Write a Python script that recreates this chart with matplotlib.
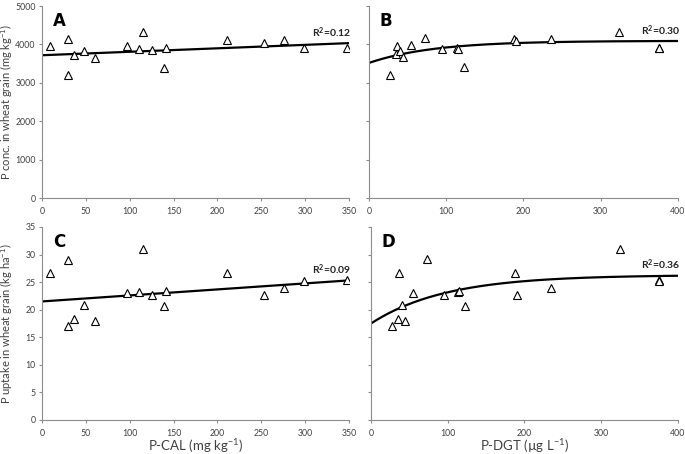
import numpy as np
import matplotlib
matplotlib.use("Agg")
import matplotlib.pyplot as plt

matplotlib.rcParams["font.family"] = ["Lato", "DejaVu Sans"]
matplotlib.rcParams["mathtext.fontset"] = "custom"
matplotlib.rcParams["mathtext.rm"] = "Lato"
matplotlib.rcParams["mathtext.bf"] = "Lato:bold"
matplotlib.rcParams["mathtext.it"] = "Lato:italic"

# ── data ─────────────────────────────────────────────────────────────────────
p_cal = [9, 30, 30, 36, 48, 60, 97, 111, 115, 125, 139, 142, 211, 253, 276, 299, 348]
conc_cal = [3950, 4150, 3200, 3720, 3820, 3660, 3950, 3870, 4320, 3860, 3400, 3920,
            4120, 4040, 4120, 3910, 3900]
uptake_cal = [26.6, 29.1, 17.0, 18.3, 20.9, 17.9, 23.0, 23.2, 31.1, 22.6, 20.6, 23.4,
              26.6, 22.7, 23.9, 25.2, 25.4]

p_dgt = [27, 35, 36, 40, 44, 55, 73, 95, 114, 115, 123, 188, 190, 235, 324, 375, 375]
conc_dgt = [3210, 3740, 3965, 3835, 3680, 3975, 4180, 3870, 3910, 3880, 3420, 4130,
            4080, 4130, 4330, 3920, 3900]
uptake_dgt = [17.0, 18.3, 26.6, 20.9, 17.9, 23.0, 29.2, 22.6, 23.3, 23.4, 20.6, 26.6,
              22.7, 23.9, 31.0, 25.3, 25.2]

# trend lines: linear (intercept, slope) and rise-to-max (a, b, c): y = a - b*exp(-c*x)
lin_A = (3720, 0.90)
lin_C = (21.5, 0.0109)
exp_B = (4095, 575, 0.012)
exp_D = (26.3, 8.8, 0.0103)

r2 = {"A": "0.12", "B": "0.30", "C": "0.09", "D": "0.36"}

GREY = "#8c8c8c"
TXT = "#404040"


def style(ax, xmax, xstep, ymax, ystep, show_y):
    for s in ("top", "right"):
        ax.spines[s].set_visible(False)
    for s in ("left", "bottom"):
        ax.spines[s].set_color(GREY)
        ax.spines[s].set_linewidth(0.8)
    ax.set_xlim(0, xmax)
    ax.set_ylim(0, ymax)
    ax.set_xticks(np.arange(0, xmax + 1, xstep))
    ax.set_yticks(np.arange(0, ymax + ystep / 2, ystep))
    ax.tick_params(axis="both", colors=GREY, labelcolor=TXT, labelsize=6.3,
                   length=2.5, width=0.8, direction="out")
    ax.tick_params(axis="x", pad=4)
    ax.tick_params(axis="y", pad=2)
    if not show_y:
        ax.set_yticklabels([])


def scatter(ax, x, y):
    ax.plot(x, y, "^", ms=6, mfc="white", mec="black", mew=0.8, zorder=3)


def trend(ax, xs, ys, label, xmax):
    ax.plot(xs, ys, color="black", lw=1.6, zorder=2)
    ax.annotate(f"R$^\\mathbf{{2}}$={label}", xy=(xmax, ys[-1]), xytext=(2, 2.5),
                textcoords="offset points", ha="right", va="bottom",
                fontsize=7.5, fontweight="bold", color="#222222")


def letter(ax, s):
    ax.text(0.035, 0.97, s, transform=ax.transAxes, fontsize=12, fontweight="bold",
            family="DejaVu Sans", va="top", ha="left")


fig = plt.figure(figsize=(6.85, 4.54), dpi=100)
axA = fig.add_axes([0.0613, 0.5634, 0.448, 0.4233])
axB = fig.add_axes([0.5387, 0.5634, 0.451, 0.4233])
axC = fig.add_axes([0.0613, 0.0749, 0.448, 0.4251])
axD = fig.add_axes([0.5416, 0.0749, 0.448, 0.4251])

xa = np.linspace(0, 350, 200)
xb = np.linspace(0, 400, 300)

# A
style(axA, 350, 50, 5000, 1000, True)
scatter(axA, p_cal, conc_cal)
trend(axA, xa, lin_A[0] + lin_A[1] * xa, r2["A"], 350)
letter(axA, "A")
axA.set_ylabel("P conc. in wheat grain (mg kg$^{-1}$)", fontsize=8, color=TXT)

# B
style(axB, 400, 100, 5000, 1000, False)
scatter(axB, p_dgt, conc_dgt)
trend(axB, xb, exp_B[0] - exp_B[1] * np.exp(-exp_B[2] * xb), r2["B"], 400)
letter(axB, "B")

# C
style(axC, 350, 50, 35, 5, True)
scatter(axC, p_cal, uptake_cal)
trend(axC, xa, lin_C[0] + lin_C[1] * xa, r2["C"], 350)
letter(axC, "C")
axC.set_ylabel("P uptake in wheat grain (kg ha$^{-1}$)", fontsize=8, color=TXT)
axC.set_xlabel("P-CAL (mg kg$^{-1}$)", fontsize=9.5, color=TXT, labelpad=-1)

# D
style(axD, 400, 100, 35, 5, False)
scatter(axD, p_dgt, uptake_dgt)
trend(axD, xb, exp_D[0] - exp_D[1] * np.exp(-exp_D[2] * xb), r2["D"], 400)
letter(axD, "D")
axD.set_xlabel("P-DGT (µg L$^{-1}$)", fontsize=9.5, color=TXT, labelpad=-1)

for ax in (axA, axC):
    ax.yaxis.set_label_coords(-0.088, 0.5)

fig.savefig("out.png", dpi=100)
